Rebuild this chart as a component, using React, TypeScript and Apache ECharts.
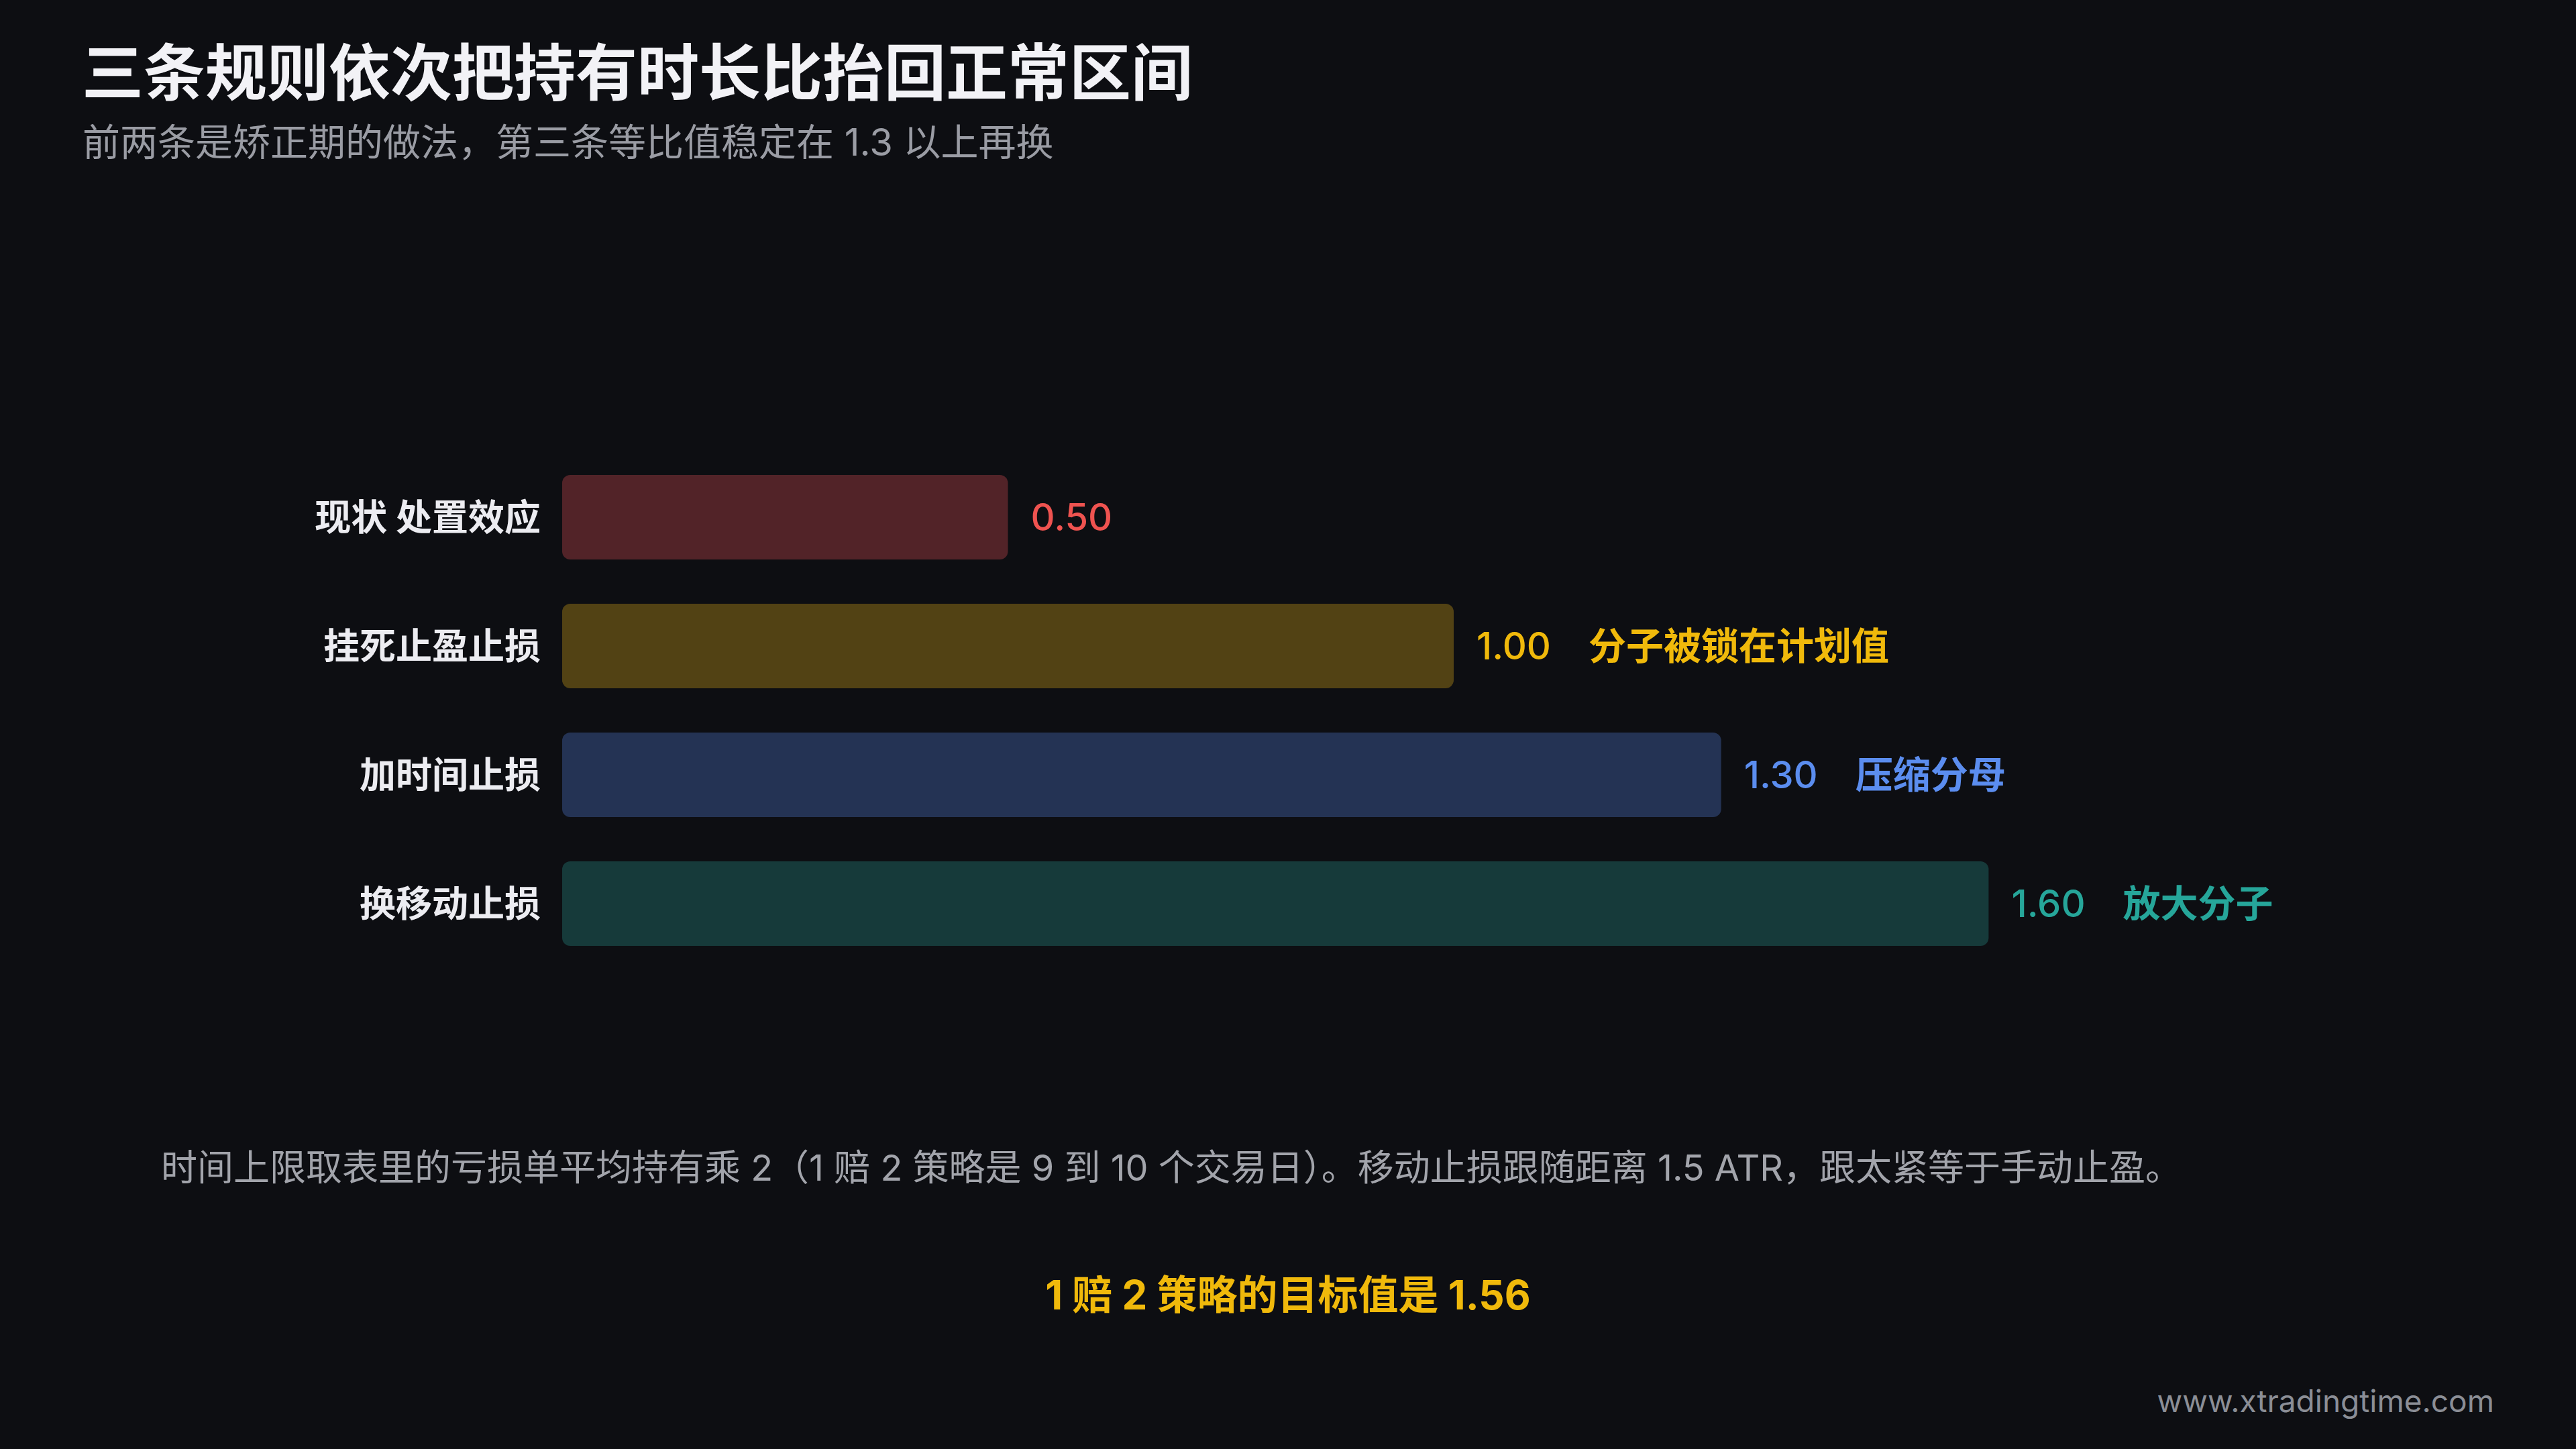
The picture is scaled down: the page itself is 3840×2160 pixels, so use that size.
import React, { useEffect, useRef } from "react";
import * as echarts from "echarts";

const categories = ["现状 处置效应", "挂死止盈止损", "加时间止损", "换移动止损"];
const values = [0.5, 1.0, 1.3, 1.6];
const notes = ["", "分子被锁在计划值", "压缩分母", "放大分子"];
const labelColors = ["#ef5350", "#f0b90b", "#5b8def", "#26a69a"];
const barColors = ["#522328", "#524214", "#243354", "#163a3a"];

const titleText = "三条规则依次把持有时长比抬回正常区间";
const subtitleText = "前两条是矫正期的做法，第三条等比值稳定在 1.3 以上再换";
const footText =
  "时间上限取表里的亏损单平均持有乘 2（1 赔 2 策略是 9 到 10 个交易日）。移动止损跟随距离 1.5 ATR，跟太紧等于手动止盈。";
const highlightText = "1 赔 2 策略的目标值是 1.56";
const watermark = "www.xtradingtime.com";

const FONT = "Inter, 'Noto Sans CJK SC', sans-serif";

export default function App() {
  const ref = useRef<HTMLDivElement>(null);
  useEffect(() => {
    document.body.style.margin = "0";
    document.body.style.background = "#0d0e12";
    if (!ref.current) return;
    const chart = echarts.init(ref.current, null, { renderer: "svg" });
    const rich: any = {};
    labelColors.forEach((c, i) => {
      rich["v" + i] = { color: c, fontSize: 56, fontWeight: 500, fontFamily: FONT };
      rich["n" + i] = { color: c, fontSize: 56, fontWeight: 700, fontFamily: FONT, padding: [0, 0, 0, 56] };
    });
    chart.setOption({
      animation: false,
      backgroundColor: "#0d0e12",
      grid: { left: 838, width: 2658, top: 675, height: 768, containLabel: false },
      xAxis: { type: "value", min: 0, max: 2, show: false },
      yAxis: {
        type: "category",
        inverse: true,
        data: categories,
        axisLine: { show: false },
        axisTick: { show: false },
        splitLine: { show: false },
        axisLabel: {
          color: "#ececf1",
          fontSize: 54,
          fontWeight: 700,
          fontFamily: FONT,
          margin: 32,
        },
      },
      series: [
        {
          type: "bar",
          barWidth: 126,
          data: values.map((v, i) => ({ value: v, itemStyle: { color: barColors[i] } })),
          itemStyle: { borderRadius: 12 },
          label: {
            show: true,
            position: "right",
            distance: 34,
            formatter: (p: any) => {
              const i = p.dataIndex;
              const v = "{v" + i + "|" + Number(p.value).toFixed(2) + "}";
              return notes[i] ? v + "{n" + i + "|" + notes[i] + "}" : v;
            },
            rich,
          },
        },
      ],
      graphic: [
        {
          type: "text",
          x: 122,
          y: 108,
          style: { text: titleText, fill: "#f2f2f6", font: "700 92px " + FONT, align: "left", verticalAlign: "middle" },
        },
        {
          type: "text",
          x: 123,
          y: 212,
          style: { text: subtitleText, fill: "#9a9ca4", font: "400 56px " + FONT, align: "left", verticalAlign: "middle" },
        },
        {
          type: "text",
          x: 240,
          y: 1740,
          style: { text: footText, fill: "#a2a4ab", font: "400 54px " + FONT, align: "left", verticalAlign: "middle" },
        },
        {
          type: "text",
          x: 1920,
          y: 1930,
          style: { text: highlightText, fill: "#f0b90b", font: "700 60px " + FONT, align: "center", verticalAlign: "middle" },
        },
        {
          type: "text",
          x: 3718,
          y: 2088,
          style: { text: watermark, fill: "#8b8e96", font: "400 46px " + FONT, align: "right", verticalAlign: "middle" },
        },
      ],
    });
    return () => chart.dispose();
  }, []);
  return <div ref={ref} style={{ width: 3840, height: 2160 }} />;
}
